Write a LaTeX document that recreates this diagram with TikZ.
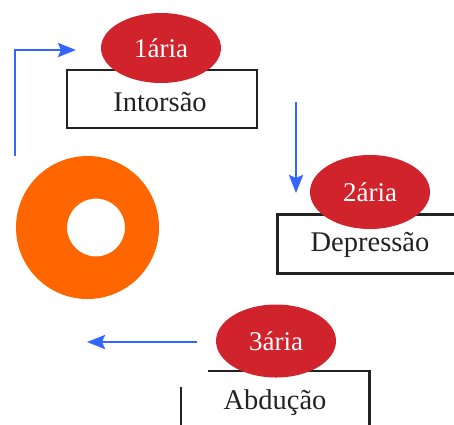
\documentclass[tikz,border=0pt]{standalone}
\usepackage{fontspec}
\setmainfont{Liberation Serif}
\usetikzlibrary{shapes.geometric,arrows.meta}
\definecolor{redE}{HTML}{D0232C}
\definecolor{blueA}{HTML}{3366FF}
\definecolor{orangeD}{HTML}{FF6600}
\definecolor{ink}{HTML}{222222}
\tikzset{
  boxstyle/.style={draw=ink, line width=2.7pt, rectangle, inner sep=0pt, text=ink, font=\fontsize{28.5}{32}\selectfont},
  labelstyle/.style={text=ink, font=\fontsize{28.5}{32}\selectfont, inner sep=0pt},
  ovalstyle/.style={ellipse, fill=redE, draw=none, inner sep=0pt, minimum width=120pt, minimum height=70pt, text=white, font=\fontsize{27}{30}\selectfont},
  arrowstyle/.style={draw=blueA, line width=2.8pt, -{Stealth[length=18pt,width=14pt,inset=3pt]}}
}
\begin{document}
\begin{tikzpicture}[x=1pt,y=-1pt]
\clip (0,0) rectangle (454,424);
% boxes
\node[boxstyle, minimum width=190pt, minimum height=58pt] (b1) at (162,99) {};
\node[labelstyle] (t1) at (160,102) {Intorsão};
\node[boxstyle, minimum width=220pt, minimum height=59pt, anchor=north west] (b2) at (276,213) {};
\node[labelstyle] (t2) at (370,245) {Depressão};
\node[draw=none, minimum width=188pt, minimum height=80pt, anchor=north west, inner sep=0pt] (b3) at (181,371) {};
\node[labelstyle] (t3) at (275,403) {Abdução};
\draw[draw=ink, line width=2.7pt] ([xshift=27pt]b3.north west) -- (b3.north east) -- (b3.south east);
\draw[draw=ink, line width=2.7pt] ([yshift=-16pt]b3.north west) -- (b3.south west);
% ellipses
\node[ovalstyle] (e1) at (161,48) {1ária};
\node[ovalstyle, minimum height=74pt] (e2) at (370,192) {2ária};
\node[ovalstyle, minimum height=73pt] (e3) at (276,341) {3ária};
% donut
\fill[orangeD, even odd rule] (87.5,227.5) circle[radius=71.5] (96,227.5) circle[radius=29];
\coordinate (d) at (87.5,227.5);
% arrows
\coordinate (a1s) at (15,156);
\coordinate (a1c) at (15,50);
\coordinate (a1e) at (76,50);
\draw[arrowstyle] (a1s) -- (a1c) -- (a1e);
\coordinate (a2s) at (296,102);
\coordinate (a2e) at (296,193);
\draw[arrowstyle] (a2s) -- (a2e);
\coordinate (a3s) at (197,342);
\coordinate (a3e) at (87,342);
\draw[arrowstyle] (a3s) -- (a3e);
\end{tikzpicture}
\end{document}
